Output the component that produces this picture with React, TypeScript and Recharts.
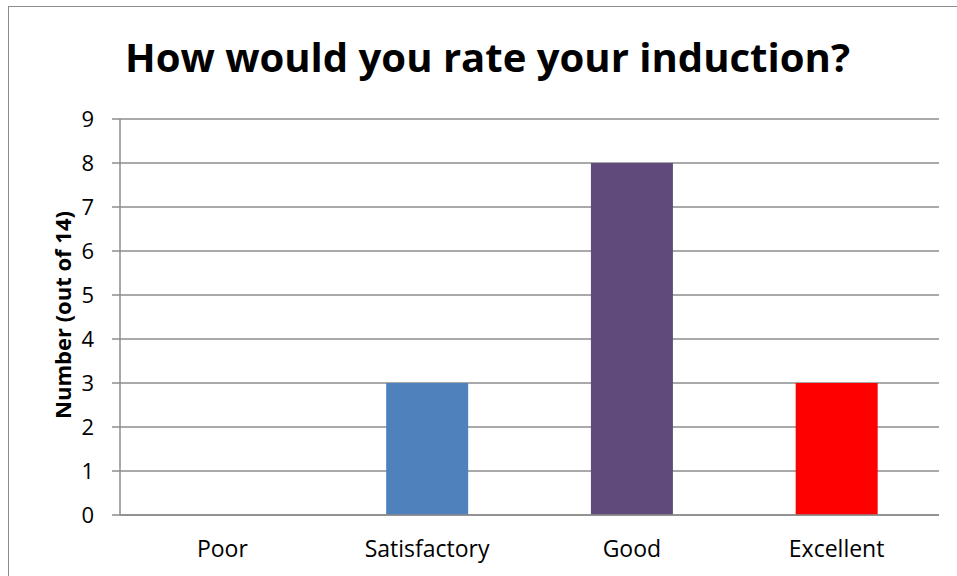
import React from "react";
import { BarChart, Bar, XAxis, YAxis, CartesianGrid, Cell, Label } from "recharts";

const categories = ["Poor", "Satisfactory", "Good", "Excellent"];
const counts = [0, 3, 8, 3];
const barColors = ["#4F81BD", "#4F81BD", "#604A7B", "#FF0000"];
const yTicks = [0, 1, 2, 3, 4, 5, 6, 7, 8, 9];
const title = "How would you rate your induction?";
const yAxisTitle = "Number (out of 14)";

const data = categories.map((c, i) => ({ name: c, value: counts[i] }));

const FONT = "'Open Sans', sans-serif";
const GRID = "#8C8C8C";

export default function App() {
  return (
    <div style={{ position: "absolute", left: 0, top: 0, width: 957, height: 576, background: "#fff", overflow: "hidden" }}>
      <div
        style={{
          position: "absolute",
          left: 8,
          top: 6,
          width: 960,
          height: 600,
          border: "1.5px solid #8C8C8C",
          boxSizing: "border-box",
        }}
      />
      <svg style={{ position: "absolute", left: 0, top: 0 }} width={957} height={100}>
        <text
          x={487.5}
          y={72}
          textAnchor="middle"
          fontFamily={FONT}
          fontWeight={700}
          fontSize={40}
          fill="#000"
          textLength={725}
          lengthAdjust="spacingAndGlyphs"
        >
          {title}
        </text>
      </svg>
      <div style={{ position: "absolute", left: 0, top: 0 }}>
        <BarChart
          width={957}
          height={576}
          data={data}
          margin={{ top: 119, right: 18, bottom: 31, left: 0 }}
          barCategoryGap="30%"
        >
          <CartesianGrid vertical={false} stroke={GRID} strokeWidth={1.5} />
          <XAxis
            dataKey="name"
            height={30}
            tickLine={false}
            axisLine={{ stroke: GRID, strokeWidth: 1.5 }}
            tick={{ fill: "#000", fontFamily: FONT, fontSize: 23 }}
            tickMargin={20}
            interval={0}
          />
          <YAxis
            width={120}
            domain={[0, 9]}
            ticks={yTicks}
            interval={0}
            tickSize={8}
            tickMargin={18}
            tickLine={{ stroke: GRID, strokeWidth: 1.5 }}
            axisLine={{ stroke: GRID, strokeWidth: 1.5 }}
            tick={{ fill: "#000", fontFamily: FONT, fontSize: 22 }}
          >
            <Label
              content={() => (
                <text
                  x={62}
                  y={315}
                  transform="rotate(-90 62 315)"
                  textAnchor="middle"
                  dominantBaseline="central"
                  fontFamily={FONT}
                  fontWeight={700}
                  fontSize={22}
                  fill="#000"
                >
                  {yAxisTitle}
                </text>
              )}
            />
          </YAxis>
          <Bar dataKey="value" isAnimationActive={false}>
            {data.map((d, i) => (
              <Cell key={d.name} fill={barColors[i]} />
            ))}
          </Bar>
        </BarChart>
      </div>
    </div>
  );
}
